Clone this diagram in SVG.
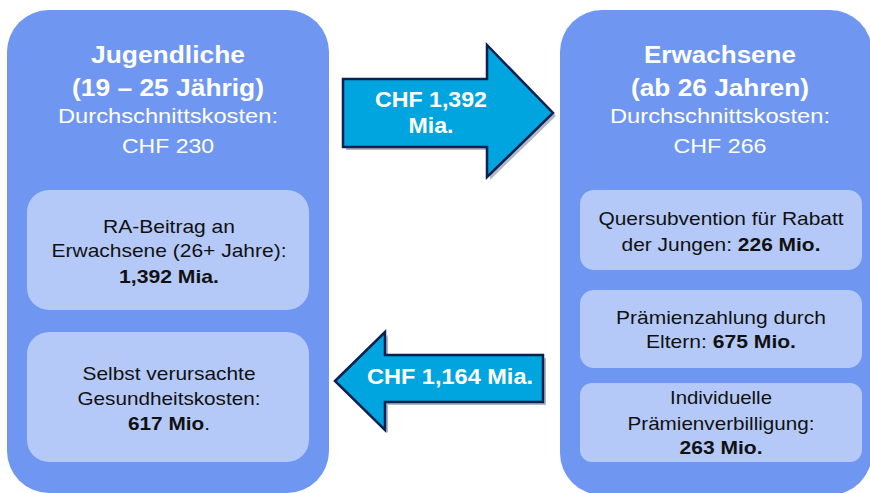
<svg xmlns="http://www.w3.org/2000/svg" width="870" height="493" viewBox="0 0 870 493">
<style>
.big{fill:#6f97f1}
.sub{fill:#b5c9f8}
.arr{fill:#00a5df;stroke:#0b1f50;stroke-width:2.5;stroke-linejoin:miter}
.sh{fill:#7f8aa0;opacity:0.6}
text{font-family:"Liberation Sans",Arial,sans-serif;text-anchor:middle}
.tb{font-size:23px;font-weight:bold;fill:#ffffff}
.tr{font-size:20px;fill:#ffffff}
.st{font-size:19px;fill:#111111}
.sb{font-weight:bold}
.at{font-size:22px;font-weight:bold;fill:#ffffff}
</style>
<rect width="870" height="493" fill="#ffffff"/>
<g id="jugendliche">
<rect class="big" x="7" y="10" width="322" height="483" rx="42"/>
<text class="tb" x="168" y="63" textLength="154" lengthAdjust="spacingAndGlyphs">Jugendliche</text>
<text class="tb" x="168" y="96" textLength="192" lengthAdjust="spacingAndGlyphs">(19 – 25 Jährig)</text>
<text class="tr" x="168" y="123" textLength="220" lengthAdjust="spacingAndGlyphs">Durchschnittskosten:</text>
<text class="tr" x="168" y="153" textLength="92" lengthAdjust="spacingAndGlyphs">CHF 230</text>
</g>
<g id="ra-beitrag">
<rect class="sub" x="27" y="190" width="282" height="120" rx="22"/>
<text class="st" x="169" y="233" textLength="132" lengthAdjust="spacingAndGlyphs">RA-Beitrag  an</text>
<text class="st" x="169" y="257" textLength="235" lengthAdjust="spacingAndGlyphs">Erwachsene (26+ Jahre):</text>
<text class="st sb" x="169" y="283" textLength="100" lengthAdjust="spacingAndGlyphs">1,392 Mia.</text>
</g>
<g id="selbst">
<rect class="sub" x="27" y="332" width="282" height="130" rx="22"/>
<text class="st" x="169" y="380" textLength="173" lengthAdjust="spacingAndGlyphs">Selbst verursachte</text>
<text class="st" x="169" y="405" textLength="183" lengthAdjust="spacingAndGlyphs">Gesundheitskosten:</text>
<text class="st" x="169" y="430" textLength="82" lengthAdjust="spacingAndGlyphs"><tspan class="sb">617 Mio</tspan>.</text>
</g>
<g id="erwachsene">
<rect class="big" x="560" y="10" width="312" height="485" rx="42"/>
<text class="tb" x="720" y="63" textLength="152" lengthAdjust="spacingAndGlyphs">Erwachsene</text>
<text class="tb" x="720" y="96" textLength="178" lengthAdjust="spacingAndGlyphs">(ab 26 Jahren)</text>
<text class="tr" x="720" y="123" textLength="220" lengthAdjust="spacingAndGlyphs">Durchschnittskosten:</text>
<text class="tr" x="720" y="153" textLength="93" lengthAdjust="spacingAndGlyphs">CHF 266</text>
</g>
<g id="quersubvention">
<rect class="sub" x="580" y="190" width="282" height="80" rx="14"/>
<text class="st" x="721" y="225" textLength="245" lengthAdjust="spacingAndGlyphs">Quersubvention  für Rabatt</text>
<text class="st" x="721" y="251" textLength="199" lengthAdjust="spacingAndGlyphs">der Jungen: <tspan class="sb">226 Mio.</tspan></text>
</g>
<g id="praemienzahlung">
<rect class="sub" x="580" y="290" width="282" height="78" rx="14"/>
<text class="st" x="721" y="324" textLength="210" lengthAdjust="spacingAndGlyphs">Prämienzahlung  durch</text>
<text class="st" x="721" y="348" textLength="150" lengthAdjust="spacingAndGlyphs">Eltern: <tspan class="sb">675 Mio.</tspan></text>
</g>
<g id="verbilligung">
<rect class="sub" x="580" y="383" width="282" height="79" rx="12"/>
<text class="st" x="721" y="404" textLength="102" lengthAdjust="spacingAndGlyphs">Individuelle</text>
<text class="st" x="721" y="430" textLength="187" lengthAdjust="spacingAndGlyphs">Prämienverbilligung:</text>
<text class="st sb" x="721" y="454" textLength="83" lengthAdjust="spacingAndGlyphs">263 Mio.</text>
</g>
<g id="connectors">
<polygon class="sh" points="346,82 490,82 490,48 556,116 490,180 490,150 346,150"/>
<polygon class="arr" points="343,79 487,79 487,45 553,113 487,177 487,147 343,147"/>
<text class="at" x="431" y="107" textLength="112" lengthAdjust="spacingAndGlyphs">CHF 1,392</text>
<text class="at" x="431" y="133" textLength="45" lengthAdjust="spacingAndGlyphs">Mia.</text>
<polygon class="sh" points="338,384 388,335 388,358 546,358 546,405 388,405 388,433"/>
<polygon class="arr" points="335,381 385,332 385,355 543,355 543,402 385,402 385,430"/>
<text class="at" x="450" y="384" textLength="166" lengthAdjust="spacingAndGlyphs">CHF 1,164 Mia.</text>
</g>
</svg>
